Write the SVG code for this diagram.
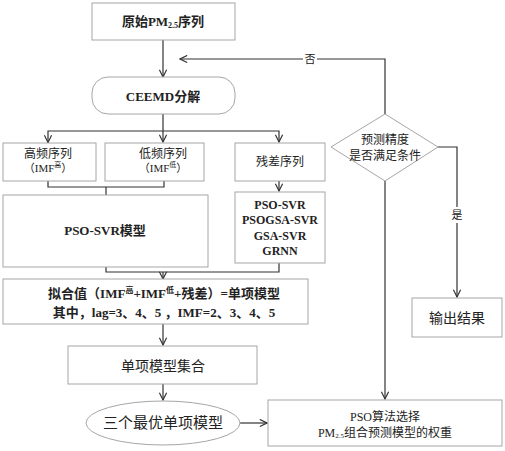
<svg xmlns="http://www.w3.org/2000/svg" width="505" height="451" viewBox="0 0 505 451">
<style>
.box{fill:#fff;stroke:#a6a6a6;stroke-width:1}
.ln{fill:none;stroke:#333;stroke-width:1.2}
text{font-family:"Liberation Serif","Noto Sans CJK SC",serif;fill:#222;text-anchor:middle;dominant-baseline:central}
.b{font-weight:bold}
</style>
<defs>
<marker id="ar" viewBox="0 0 10 10" refX="9" refY="5" markerWidth="9" markerHeight="9" markerUnits="userSpaceOnUse" orient="auto">
<path d="M1,1 L9,5 L1,9" fill="none" stroke="#333" stroke-width="1.3"/>
</marker>
</defs>
<rect width="505" height="451" fill="#fff"/>
<g id="connectors">
<line class="ln" x1="163" y1="40" x2="163" y2="77" marker-end="url(#ar)"/>
<polyline class="ln" points="385,114 385,59 180,59" marker-end="url(#ar)"/>
<line class="ln" x1="163" y1="114" x2="163" y2="131"/>
<polyline class="ln" points="48,142 48,131 279,131 279,142" marker-end="url(#ar)"/>
<line class="ln" x1="163" y1="131" x2="163" y2="142" marker-end="url(#ar)"/>
<line class="ln" x1="48" y1="142" x2="48" y2="142.5" marker-end="url(#ar)"/>
<polyline class="ln" points="48,181 48,187 164,187 164,181"/>
<line class="ln" x1="106" y1="187" x2="106" y2="195"/>
<line class="ln" x1="279" y1="181" x2="279" y2="191" marker-end="url(#ar)"/>
<polyline class="ln" points="106,267 106,272 279,272 279,263"/>
<line class="ln" x1="163" y1="272" x2="163" y2="279" marker-end="url(#ar)"/>
<line class="ln" x1="163" y1="324" x2="163" y2="345" marker-end="url(#ar)"/>
<line class="ln" x1="163" y1="384" x2="163" y2="400" marker-end="url(#ar)"/>
<line class="ln" x1="240" y1="423" x2="267" y2="423" marker-end="url(#ar)"/>
<line class="ln" x1="385" y1="181" x2="385" y2="399" marker-end="url(#ar)"/>
<polyline class="ln" points="438,147 457,147 457,297" marker-end="url(#ar)"/>
<rect x="303" y="52" width="14" height="14" fill="#fff"/>
<text x="310" y="59" font-size="11">否</text>
<rect x="450" y="207" width="14" height="16" fill="#fff"/>
<text x="457" y="215" font-size="11">是</text>
</g>
<g id="n-source">
<rect class="box" x="92" y="3" width="143" height="37"/>
<text x="163" y="21" font-size="13" class="b">原始PM<tspan font-size="8" dy="4">2.5</tspan><tspan dy="-4">序列</tspan></text>
</g>
<g id="n-ceemd">
<rect class="box" x="92" y="77" width="143" height="37" rx="16"/>
<text x="163" y="96" font-size="13" class="b">CEEMD分解</text>
</g>
<g id="n-high">
<rect class="box" x="3" y="143" width="93" height="38"/>
<text x="48" y="154" font-size="12">高频序列</text>
<text x="48" y="168" font-size="11">（IMF<tspan font-size="7" dy="-3">高</tspan><tspan dy="3">）</tspan></text>
</g>
<g id="n-low">
<rect class="box" x="105" y="143" width="99" height="38"/>
<text x="163" y="154" font-size="12">低频序列</text>
<text x="163" y="168" font-size="11">（IMF<tspan font-size="7" dy="-3">低</tspan><tspan dy="3">）</tspan></text>
</g>
<g id="n-resid">
<rect class="box" x="235" y="143" width="90" height="38"/>
<text x="280" y="162" font-size="12">残差序列</text>
</g>
<g id="n-psosvr">
<rect class="box" x="3" y="195" width="205" height="72"/>
<text x="105" y="230" font-size="13" class="b">PSO-SVR模型</text>
</g>
<g id="n-models">
<rect class="box" x="235" y="192" width="90" height="71"/>
<text x="280" y="205" font-size="12" class="b">PSO-SVR</text>
<text x="280" y="220" font-size="12" class="b">PSOGSA-SVR</text>
<text x="280" y="236" font-size="12" class="b">GSA-SVR</text>
<text x="280" y="251" font-size="12" class="b">GRNN</text>
</g>
<g id="n-fit">
<rect class="box" x="3" y="279" width="305" height="45"/>
<text x="164" y="293" font-size="13" class="b">拟合值（IMF<tspan font-size="8" dy="-3">高</tspan><tspan dy="3">+IMF</tspan><tspan font-size="8" dy="-3">低</tspan><tspan dy="3">+残差）=单项模型</tspan></text>
<text x="164" y="312" font-size="13" class="b">其中，lag=3、4、5 ，IMF=2、3、4、5</text>
</g>
<g id="n-set">
<rect class="box" x="68" y="346" width="189" height="38"/>
<text x="163" y="366" font-size="14">单项模型集合</text>
</g>
<g id="n-best">
<ellipse cx="163" cy="423" rx="77" ry="22" fill="#fff" stroke="#a6a6a6"/>
<text x="163" y="423" font-size="15">三个最优单项模型</text>
</g>
<g id="n-pso">
<rect class="box" x="268" y="400" width="234" height="46"/>
<text x="385" y="417" font-size="12">PSO算法选择</text>
<text x="385" y="433" font-size="12">PM<tspan font-size="7" dy="3">2.5</tspan><tspan dy="-3">组合预测模型的权重</tspan></text>
</g>
<g id="n-decide">
<polygon points="385,114 438,147 385,181 331,147" fill="#fff" stroke="#a6a6a6"/>
<text x="385" y="140" font-size="12">预测精度</text>
<text x="385" y="156" font-size="12">是否满足条件</text>
</g>
<g id="n-out">
<rect class="box" x="412" y="298" width="90" height="39"/>
<text x="457" y="318" font-size="14">输出结果</text>
</g>
</svg>
